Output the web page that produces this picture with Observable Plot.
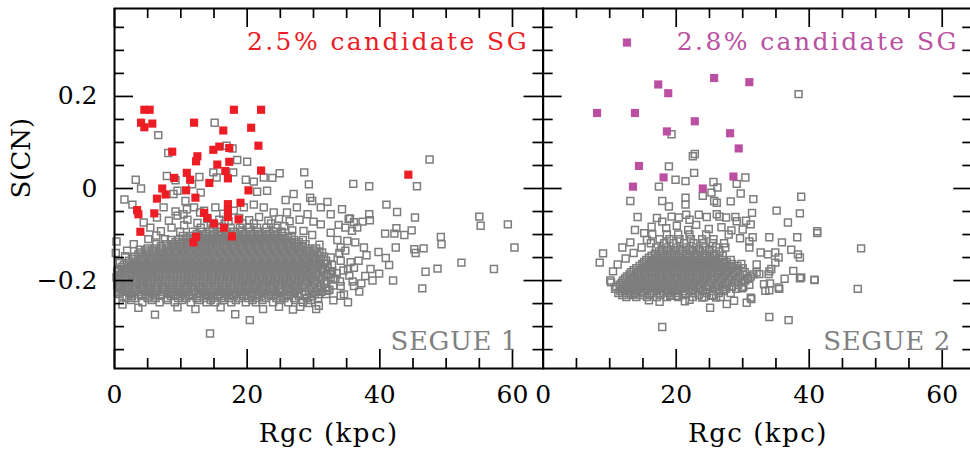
<!DOCTYPE html>
<html><head><meta charset="utf-8">
<script src="https://cdn.jsdelivr.net/npm/d3@7"></script>
<script src="https://cdn.jsdelivr.net/npm/@observablehq/plot@0.6"></script>
<style>
body{margin:0;background:#fff}
#wrap{position:relative;width:970px;height:449px;overflow:hidden;background:#fff}
.pane{position:absolute;top:0}
.pane svg{max-width:none !important}
</style>
</head><body><div id="wrap"></div>
<script>
// ---------- axes / ticks ----------
const xMajor = [0, 20, 40, 60];
const xMinor = [5, 10, 15, 25, 30, 35, 45, 50, 55];
const yMajor = [-0.2, 0, 0.2];
const yMinor = [-0.35, -0.3, -0.25, -0.15, -0.1, -0.05, 0.05, 0.1, 0.15, 0.25, 0.3, 0.35];
const xDomain = [0, 64.6];
const yDomain = [-0.391, 0.391];

// ---------- texts ----------
const titleLeft = "2.5% candidate SG";
const titleRight = "2.8% candidate SG";
const tagLeft = "SEGUE 1";
const tagRight = "SEGUE 2";
const xLabel = "Rgc (kpc)";
const yLabel = "S(CN)";

// ---------- SEGUE 1: candidate SG stars (filled red) ----------
const seg1Cand = [[4.5,0.171],[5.3,0.171],[4.0,0.143],[4.5,0.133],[5.7,0.141],[12.0,0.143],[18.0,0.171],[22.1,0.171],
[16.4,0.126],[20.6,0.132],[21.7,0.093],[8.7,0.080],[14.9,0.084],[15.8,0.091],[17.3,0.088],[12.5,0.070],[12.3,0.059],
[17.3,0.058],[15.5,0.052],[16.7,0.038],[17.1,0.022],[22.1,0.039],[10.9,0.034],[9.0,0.023],[11.4,0.019],[14.3,0.012],
[20.2,-0.004],[7.2,0.000],[7.7,-0.013],[10.8,-0.004],[12.2,-0.020],[6.4,-0.022],[19.0,-0.031],[3.4,-0.047],[3.6,-0.056],
[6.0,-0.054],[17.1,-0.034],[17.1,-0.048],[17.1,-0.062],[13.5,-0.053],[14.0,-0.064],[15.0,-0.076],[18.7,-0.067],
[16.5,-0.085],[3.9,-0.094],[12.3,-0.105],[11.9,-0.117],[17.7,-0.104],[44.3,0.030]];

// ---------- SEGUE 1: other stars (open grey), scattered ----------
const seg1Scatter = [[15.1,0.143],[6.6,0.116],[8.1,0.077],[16.9,0.093],[17.8,0.087],[18.5,0.062],[20.0,0.058],
[3.2,0.019],[4.0,0.0],[1.5,-0.024],[2.7,-0.035],[7.9,0.027],[9.2,0.018],[12.8,0.025],[11.7,0.009],
[14.9,0.035],[15.4,0.024],[17.9,0.035],[19.8,0.019],[21.0,0.015],[22.5,0.024],[23.8,0.023],[24.9,0.033],
[28.6,0.035],[29.3,0.009],[23.0,-0.005],[21.5,-0.007],[9.5,-0.005],[8.9,-0.012],[13.0,-0.009],
[10.7,-0.027],[25.8,-0.025],[27.0,-0.012],[29.5,-0.020],[29.8,-0.027],[32.1,-0.029],[34.3,-0.045],[35.3,-0.066],
[36.0,0.010],[38.4,0.005],[47.5,0.063],[45.6,0.005],
[7.4,-0.041],[9.2,-0.050],[10.4,-0.056],[12.0,-0.041],[13.5,-0.048],[15.2,-0.041],[16.4,-0.055],[18.0,-0.048],
[19.5,-0.041],[21.0,-0.035],[22.5,-0.041],[24.0,-0.052],[26.0,-0.052],[27.5,-0.041],[29.1,-0.056],[31.1,-0.041],[32.6,-0.056],
[10.9,-0.045],[12.9,-0.052],[4.4,-0.074],[5.4,-0.085],[6.4,-0.063],[8.2,-0.070],[9.5,-0.059],
[11.0,-0.068],[12.5,-0.075],[14.0,-0.066],[15.8,-0.068],[17.2,-0.071],[18.8,-0.064],[20.3,-0.069],[21.8,-0.062],
[23.2,-0.070],[24.8,-0.066],[26.4,-0.071],[27.9,-0.068],[30.0,-0.072],[31.1,-0.078],
[7.0,-0.093],[8.6,-0.085],[9.9,-0.094],[10.5,-0.080],[25.6,-0.082],[26.8,-0.091],[28.5,-0.092],[29.8,-0.101],
[0.3,-0.115],[1.9,-0.135],[2.9,-0.121],[3.8,-0.133],[5.1,-0.110],[6.3,-0.102],[7.6,-0.110],
[32.6,-0.096],[33.8,-0.079],[34.8,-0.085],[35.8,-0.092],[36.6,-0.085],[33.6,-0.112],[35.1,-0.114],[36.3,-0.117],
[34.1,-0.128],[34.8,-0.135],[32.6,-0.150],[32.1,-0.164],[34.1,-0.157],[36.1,-0.172],[36.8,-0.157],[32.6,-0.186],
[34.1,-0.212],[34.6,-0.230],[32.1,-0.222],[30.8,-0.230],[33.3,-0.196],[35.4,-0.189],[31.3,-0.139],[30.9,-0.122],
[41.0,-0.035],[42.6,-0.051],[45.3,-0.063],[35.5,-0.065],[38.4,-0.056],[38.5,-0.069],[37.4,-0.072],[36.1,-0.073],
[40.8,-0.098],[42.2,-0.098],[43.7,-0.101],[44.8,-0.091],[42.5,-0.086],[42.4,-0.128],[45.2,-0.132],[45.4,-0.140],
[46.6,-0.130],[49.2,-0.105],[49.3,-0.121],
[55.0,-0.061],[55.2,-0.081],[59.3,-0.078],[60.3,-0.128],[52.3,-0.161],[57.2,-0.175],[48.7,-0.174],[46.9,-0.181],
[46.4,-0.217],[42.0,-0.200],
[39.8,-0.138],[40.9,-0.151],[41.4,-0.166],[38.0,-0.145],[37.6,-0.128],[38.6,-0.175],[39.9,-0.185],
[34.1,-0.233],[30.4,-0.262],[28.0,-0.257],[38.9,-0.200],[37.2,-0.206],[36.1,-0.212],[36.9,-0.224],
[3.6,-0.259],[6.1,-0.274],[18.2,-0.273],[20.4,-0.286],[14.4,-0.315],[9.5,-0.258],[12.2,-0.262],[16.0,-0.258],
[22.4,-0.262],[24.8,-0.257],[26.9,-0.263],[30.8,-0.255],[1.2,-0.252],
[0.7,-0.198],[0.7,-0.212],[0.5,-0.226],[0.4,-0.180],[0.8,-0.162],[1.6,-0.147],[0.2,-0.140],
[33.9,-0.140],[35.6,-0.160],[34.5,-0.178],[35.9,-0.202],[37.8,-0.190],[33.0,-0.243],[35.2,-0.247],[29.2,-0.249]];

// ---------- SEGUE 1: dense core, one S(CN) level per row ----------
const seg1CoreY = [-0.247,-0.2425,-0.238,-0.2335,-0.229,-0.2245,-0.220,-0.2155,-0.211,-0.2065,-0.202,-0.1975,-0.193,-0.1885,
-0.184,-0.1795,-0.175,-0.1705,-0.166,-0.1615,-0.157,-0.1525,-0.148,-0.1435,-0.139,-0.1345,-0.130,-0.1255,-0.121,-0.1165,
-0.112,-0.1075,-0.103,-0.0985,-0.094,-0.085,-0.076];
const seg1CoreX = [
[4.2,6.8,9.1,11.5,13.9,15.2,17.6,19.8,21.3,23.9,26.2,28.4],
[2.5,5.6,8.0,10.2,12.8,14.5,16.5,18.3,20.8,22.3,24.9,27.3,29.6],
[1.8,3.1,5.0,6.2,7.9,9.6,10.8,12.4,13.5,14.8,16.1,17.3,18.8,20.1,21.5,22.8,24.4,25.6,27.1,29.0,30.7],
[1.2,2.6,4.0,5.3,6.9,8.5,9.9,11.2,12.9,14.2,15.5,16.7,18.0,19.5,20.8,22.2,23.6,25.0,26.3,27.8,29.8],
[0.6,2.4,3.7,4.6,5.8,7.1,8.3,9.2,10.4,11.6,12.9,14.0,15.5,16.6,17.9,19.2,20.6,21.8,23.1,24.3,25.9,27.6,28.8,30.2,31.9],
[0.9,1.7,3.0,4.0,5.1,6.2,7.4,8.6,9.6,10.9,12.0,13.4,14.7,15.9,17.1,18.4,19.7,20.9,22.2,23.5,24.8,26.2,27.2,28.7,30.4,31.2],
[1.2,2.0,3.3,4.4,5.5,6.5,7.6,8.8,9.9,11.0,12.1,13.3,14.5,15.7,16.9,18.1,19.3,20.4,21.7,22.9,24.0,25.2,26.5,27.8,29.3,30.6,32.4],
[0.8,2.1,3.0,4.1,5.2,6.4,7.3,8.4,9.5,10.7,11.6,12.8,14.0,15.2,16.4,17.6,18.8,20.0,21.2,22.4,23.6,24.9,26.1,27.3,28.6,30.0,31.8],
[0.4,1.5,2.7,3.9,4.9,6.0,7.2,8.2,9.4,10.5,11.7,12.7,13.9,15.1,16.3,17.5,18.6,19.8,21.0,22.2,23.4,24.7,25.8,27.0,28.3,29.7,31.1,33.0],
[1.0,2.0,3.2,4.4,5.5,6.5,7.7,8.8,9.8,11.0,12.2,13.2,14.4,15.6,16.8,18.0,19.1,20.3,21.5,22.7,23.9,25.1,26.3,27.5,28.8,30.2,31.6],
[0.9,2.2,3.4,4.3,5.4,6.7,7.8,8.9,10.0,11.2,12.3,13.4,14.6,15.8,17.0,18.2,19.4,20.6,21.8,23.0,24.2,25.4,26.6,27.8,29.0,30.3,31.7,34.0],
[0.5,1.9,2.8,4.0,4.8,6.0,7.2,8.3,9.4,10.5,11.7,12.8,13.9,15.1,16.3,17.5,18.7,19.9,21.1,22.3,23.5,24.7,25.9,27.1,28.3,29.6,31.0,33.0],
[0.3,1.6,2.9,3.8,5.0,6.1,7.3,8.4,9.5,10.6,11.8,12.9,14.0,15.2,16.4,17.6,18.8,20.0,21.2,22.4,23.6,24.8,26.0,27.2,28.5,29.8,31.2,32.6],
[0.8,2.2,3.3,4.3,5.4,6.6,7.7,8.9,10.0,11.2,12.3,13.4,14.6,15.8,17.0,18.2,19.4,20.6,21.8,23.0,24.2,25.4,26.6,27.8,29.1,30.4,31.9],
[1.1,2.3,3.5,4.7,5.6,6.8,7.9,9.0,10.1,11.3,12.4,13.6,14.7,15.9,17.1,18.3,19.5,20.7,21.9,23.1,24.3,25.5,26.7,28.0,29.3,30.6,32.1,33.5],
[0.5,1.6,2.8,4.0,5.1,6.2,7.3,8.4,9.5,10.6,11.8,13.0,14.1,15.3,16.5,17.7,18.9,20.1,21.3,22.5,23.7,24.9,26.1,27.3,28.6,29.9,31.3,32.8],
[0.7,2.0,3.2,4.2,5.3,6.4,7.5,8.6,9.7,10.8,11.9,13.0,14.2,15.4,16.6,17.8,19.0,20.2,21.4,22.6,23.8,25.0,26.2,27.4,28.7,30.0,31.4,35.2],
[1.1,2.5,3.7,4.8,5.8,6.9,8.0,9.1,10.2,11.3,12.4,13.6,14.8,16.0,17.2,18.4,19.6,20.8,22.0,23.2,24.4,25.6,26.8,28.0,29.3,30.7,32.1],
[1.4,2.6,3.9,5.0,6.1,7.2,8.3,9.4,10.5,11.6,12.7,13.8,15.0,16.2,17.4,18.6,19.8,21.0,22.2,23.4,24.6,25.8,27.0,28.3,29.6,31.0,32.8],
[1.9,3.1,4.4,5.5,6.6,7.7,8.8,9.9,11.0,12.1,13.2,14.4,15.6,16.8,18.0,19.2,20.4,21.6,22.8,24.0,25.2,26.4,27.6,28.9,30.2,31.6],
[2.2,3.5,4.6,5.8,6.9,8.0,9.1,10.2,11.3,12.4,13.5,14.6,15.8,17.0,18.2,19.4,20.6,21.8,23.0,24.2,25.4,26.6,27.8,29.1,30.4,31.9],
[2.8,4.0,5.2,6.3,7.4,8.5,9.6,10.7,11.8,12.9,14.0,15.2,16.4,17.6,18.8,20.0,21.2,22.4,23.6,24.8,26.0,27.2,28.5,29.8,31.1],
[3.0,4.3,5.5,6.6,7.7,8.8,9.9,11.0,12.1,13.2,14.3,15.4,16.6,17.8,19.0,20.2,21.4,22.6,23.8,25.0,26.2,27.4,28.7,30.1,31.6],
[3.6,4.8,6.0,7.1,8.2,9.3,10.4,11.5,12.6,13.7,14.8,16.0,17.2,18.4,19.6,20.8,22.0,23.2,24.4,25.6,26.8,28.0,29.3,30.6],
[4.0,5.2,6.3,7.4,8.5,9.6,10.7,11.8,12.9,14.0,15.1,16.2,17.4,18.6,19.8,21.0,22.2,23.4,24.6,25.8,27.0,28.3,29.6,30.9],
[4.6,5.7,6.8,7.9,9.0,10.1,11.2,12.3,13.4,14.5,15.6,16.8,18.0,19.2,20.4,21.6,22.8,24.0,25.2,26.4,27.6,28.9,30.0],
[5.0,6.0,7.1,8.2,9.3,10.4,11.5,12.6,13.7,14.8,15.9,17.0,18.2,19.4,20.6,21.8,23.0,24.2,25.4,26.6,27.9,29.2,30.4],
[7.0,8.6,9.8,10.9,12.0,13.1,14.2,15.3,16.4,17.6,18.8,20.0,21.2,22.4,23.6,24.8,26.0,27.2,28.4],
[6.3,7.8,8.9,10.0,11.1,12.2,13.3,14.4,15.5,16.6,17.8,19.0,20.2,21.4,22.6,23.8,25.0,26.2,27.5,28.8],
[9.2,10.4,11.5,12.6,13.7,14.8,15.9,17.0,18.2,19.4,20.6,21.8,23.0,24.2,25.4,26.6,27.8],
[8.5,9.7,10.8,11.9,13.0,14.1,15.2,16.3,17.4,18.6,19.8,21.0,22.2,23.4,24.6,25.8,27.1,28.4],
[11.0,12.1,13.2,14.3,15.4,16.6,17.8,19.0,20.2,21.4,22.6,23.8,25.0,26.2],
[10.3,11.5,12.6,13.7,14.8,15.9,17.0,18.2,19.4,20.6,21.8,23.0,24.2,25.4,26.7],
[12.4,13.8,15.0,16.2,17.4,18.6,19.8,21.0,22.2,23.4,24.6],
[11.8,13.2,14.4,15.6,16.8,18.0,19.2,20.4,21.6,22.8,24.0,25.2],
[13.0,14.8,16.1,17.5,18.9,20.2,21.5,22.9,24.3],
[14.5,16.6,19.3,21.0,23.6]];

// ---------- SEGUE 2: candidate SG stars (filled magenta) ----------
const seg2Cand = [[12.6,0.317],[8.1,0.164],[13.8,0.164],[17.3,0.226],[18.8,0.207],[25.7,0.240],[31.0,0.231],
[22.8,0.146],[18.6,0.124],[28.1,0.120],[29.4,0.087],[14.4,0.049],[18.1,0.024],[28.6,0.026],[13.5,0.004],[24.0,0.000]];

// ---------- SEGUE 2: other stars, scattered ----------
const seg2Scatter = [[38.4,0.205],[19.3,0.118],[22.8,0.075],[22.5,0.070],[18.9,0.048],[22.7,0.034],[19.9,0.019],
[21.4,0.016],[17.4,0.004],[25.6,0.014],[26.2,0.002],[25.3,-0.009],[24.0,-0.016],[29.1,0.010],[30.4,0.024],
[29.7,-0.011],[31.6,-0.023],[38.8,-0.018],[13.1,-0.027],[17.9,-0.027],[18.9,-0.039],[21.4,-0.020],[21.4,-0.035],
[25.7,-0.027],[26.1,-0.031],[28.2,-0.028],[14.2,-0.062],[35.1,-0.048],[38.6,-0.054],[36.8,-0.074],[31.4,-0.053],
[41.2,-0.093],[13.8,-0.090],
[17.1,-0.064],[17.9,-0.072],[19.3,-0.061],[20.4,-0.063],[21.5,-0.057],[22.0,-0.068],[23.4,-0.057],[24.6,-0.062],
[26.1,-0.056],[26.5,-0.061],[27.5,-0.063],[28.9,-0.062],[29.1,-0.071],[30.5,-0.070],[31.2,-0.078],[16.3,-0.083],
[18.5,-0.086],[20.1,-0.081],[21.8,-0.090],[23.0,-0.079],[24.9,-0.088],[26.8,-0.084],[28.3,-0.091],[30.0,-0.089],
[15.2,-0.097],[27.9,-0.100],[29.6,-0.108],[31.0,-0.115],
[38.2,-0.106],[35.9,-0.117],[34.0,-0.106],[31.5,-0.106],[32.7,-0.139],[33.8,-0.143],[34.9,-0.139],[35.4,-0.150],
[34.9,-0.161],[37.3,-0.133],[38.3,-0.143],[38.6,-0.150],[37.6,-0.179],[38.8,-0.193],[40.8,-0.199],[35.4,-0.215],
[34.1,-0.206],[33.2,-0.208],[33.9,-0.186],[34.3,-0.175],[29.9,-0.215],[31.2,-0.237],[27.2,-0.219],[25.4,-0.233],
[23.9,-0.237],[32.1,-0.165],[31.0,-0.128],[32.5,-0.186],[30.8,-0.196],[33.4,-0.222],[36.3,-0.196],
[8.5,-0.161],[9.0,-0.141],[10.2,-0.204],[10.1,-0.200],[11.9,-0.219],[13.5,-0.230],[14.6,-0.226],[11.9,-0.128],
[13.1,-0.117],[10.5,-0.180],[11.2,-0.165],[12.4,-0.152],[13.6,-0.140],[14.8,-0.128],[15.6,-0.112],
[17.9,-0.301],[17.5,-0.246],[19.1,-0.233],[20.1,-0.233],[22.0,-0.242],[25.1,-0.259],[26.0,-0.237],[27.6,-0.251],
[28.7,-0.244],[30.6,-0.248],[31.3,-0.240],[29.9,-0.217],[35.5,-0.218],[34.0,-0.279],[36.9,-0.286],[38.6,-0.195],
[40.8,-0.198],[47.3,-0.218],[47.8,-0.130],[41.2,-0.097],[34.0,-0.180],[34.0,-0.221],[15.9,-0.243],[21.3,-0.245]];

// ---------- SEGUE 2: dense core rows ----------
const seg2CoreY = [-0.236,-0.2315,-0.227,-0.2225,-0.218,-0.2135,-0.209,-0.2045,-0.200,-0.1955,-0.191,-0.1865,-0.182,-0.1775,
-0.173,-0.1685,-0.164,-0.1595,-0.155,-0.1505,-0.146,-0.1415,-0.137,-0.1325,-0.128,-0.119,-0.110,-0.100];
const seg2CoreX = [
[12.5,14.0,15.6,17.1,18.6,20.3,22.5,24.2,26.7],
[11.9,13.2,14.6,16.0,17.6,19.3,21.0,23.4,25.5],
[11.3,12.6,13.8,15.0,16.3,17.5,18.8,20.0,21.4,22.8,24.6,26.4,28.2],
[11.6,12.8,14.0,15.2,16.4,17.6,18.8,20.0,21.2,22.5,24.0,25.5,27.1],
[10.8,11.9,13.0,14.1,15.2,16.3,17.4,18.5,19.6,20.8,22.0,23.3,24.7,26.1,27.5,29.0],
[11.0,12.1,13.2,14.3,15.4,16.5,17.6,18.7,19.8,20.9,22.1,23.3,24.5,25.8,27.0,28.4,30.1],
[11.5,12.5,13.6,14.7,15.8,16.9,18.0,19.1,20.2,21.3,22.5,23.7,24.9,26.2,27.6,29.3,31.0],
[11.8,12.8,13.9,15.0,16.1,17.2,18.3,19.4,20.5,21.6,22.7,23.9,25.1,26.3,27.5,28.8,30.0],
[12.0,13.1,14.2,15.3,16.4,17.5,18.6,19.7,20.8,21.9,23.0,24.1,25.3,26.5,27.8,29.0,30.4],
[12.3,13.4,14.5,15.6,16.7,17.8,18.9,20.0,21.1,22.2,23.3,24.4,25.6,26.8,28.0,29.3,30.8],
[12.6,13.7,14.8,15.9,17.0,18.1,19.2,20.3,21.4,22.5,23.6,24.7,25.8,27.0,28.3,29.6,31.2],
[13.0,14.1,15.2,16.3,17.4,18.5,19.6,20.7,21.8,22.9,24.0,25.1,26.2,27.3,28.6,30.0,31.6],
[13.2,14.3,15.4,16.5,17.6,18.7,19.8,20.9,22.0,23.1,24.2,25.3,26.4,27.6,28.9,30.3,32.1],
[13.6,14.7,15.8,16.9,18.0,19.1,20.2,21.3,22.4,23.5,24.6,25.7,26.8,28.0,29.3],
[14.0,15.1,16.2,17.3,18.4,19.5,20.6,21.7,22.8,23.9,25.0,26.1,27.3,28.6,30.0],
[14.5,15.6,16.7,17.8,18.9,20.0,21.1,22.2,23.3,24.4,25.5,26.7,27.9,29.2],
[14.9,16.0,17.1,18.2,19.3,20.4,21.5,22.6,23.7,24.8,25.9,27.1,28.4,29.8],
[15.2,16.4,17.5,18.6,19.7,20.8,21.9,23.0,24.1,25.2,26.4,27.6],
[15.5,16.7,17.8,18.9,20.0,21.1,22.2,23.3,24.4,25.6,26.9,28.2],
[15.9,17.1,18.2,19.3,20.4,21.5,22.7,23.9,25.1,26.4],
[16.3,17.6,18.7,19.8,20.9,22.0,23.2,24.4,25.7,27.0],
[16.8,18.0,19.2,20.4,21.6,22.9,24.3,25.7],
[17.4,18.6,19.8,21.0,22.3,23.6,25.0,26.5],
[17.8,19.2,20.6,22.0,23.4,25.0],
[17.0,18.5,20.0,21.5,23.0,24.4,26.0,27.4],
[16.2,18.2,19.6,21.2,22.6,24.1,25.5,27.2],
[17.5,19.0,20.5,22.2,23.9,25.6],
[16.4,18.6,20.3,22.0,24.5]];

// ---------- colours ----------
const red = "#ec1d25";
const magenta = "#bb50a2";
const grey = "#7d7d7d";

function rowsToPoints(ys, xs) {
  const out = [];
  ys.forEach((y, i) => xs[i].forEach(x => out.push([x, y])));
  return out;
}
const seg1Grey = seg1Scatter.concat(rowsToPoints(seg1CoreY, seg1CoreX));
const seg2Grey = seg2Scatter.concat(rowsToPoints(seg2CoreY, seg2CoreX));

const FONT = "DejaVu Serif";
const HEIGHT = 449, MT = 8, MB = 81;
const FH = HEIGHT - MT - MB;
const MAJOR_PX = 19, MINOR_PX = 10;

function panel({width, marginLeft, marginRight, greyPts, candPts, candColor, title, tag, showY, titleDx, tagDx}) {
  const FW = width - marginLeft - marginRight;
  // tick lengths expressed in data units of each scale
  const yPerPx = (yDomain[1] - yDomain[0]) / FH;
  const xPerPx = (xDomain[1] - xDomain[0]) / FW;
  const [x0, x1] = xDomain, [y0, y1] = yDomain;
  const tickStyle = {stroke: "#000", strokeWidth: 1.7};
  const xt = (vals, len) => [
    Plot.ruleX(vals, {x: d => d, y1: y0, y2: y0 + len * yPerPx, ...tickStyle}),
    Plot.ruleX(vals, {x: d => d, y1: y1, y2: y1 - len * yPerPx, ...tickStyle})
  ];
  const yt = (vals, len) => [
    Plot.ruleY(vals, {y: d => d, x1: x0, x2: x0 + len * xPerPx, ...tickStyle}),
    Plot.ruleY(vals, {y: d => d, x1: x1, x2: x1 - len * xPerPx, ...tickStyle})
  ];
  const marks = [
    Plot.dot(greyPts, {x: d => d[0], y: d => d[1], symbol: "square", r: 3.9, stroke: grey, strokeWidth: 1.5, fill: "none"}),
    Plot.dot(candPts, {x: d => d[0], y: d => d[1], symbol: "square", r: 4.6, fill: candColor, stroke: "none"}),
    ...xt(xMajor, MAJOR_PX), ...xt(xMinor, MINOR_PX),
    ...yt(yMajor, MAJOR_PX), ...yt(yMinor, MINOR_PX),
    Plot.frame({stroke: "#000", strokeWidth: 2}),
    Plot.axisX(xMajor, {anchor: "bottom", tickSize: 0, tickPadding: 17, tickFormat: d => String(d), label: null, fontSize: 25}),
    Plot.text([xLabel], {frameAnchor: "bottom", text: d => d, lineAnchor: "top", dy: 55.5, fontSize: 26}),
    Plot.text([title], {frameAnchor: "top-right", text: d => d, textAnchor: "end", lineAnchor: "top", dx: titleDx, dy: 24, fill: candColor, fontSize: 25}),
    Plot.text([tag], {frameAnchor: "bottom-right", text: d => d, textAnchor: "end", lineAnchor: "top", dx: tagDx, dy: -36.5, fill: "#808080", fontSize: 26})
  ];
  if (showY) {
    marks.push(
      Plot.axisY(yMajor, {anchor: "left", tickSize: 0, tickPadding: 17, label: null, fontSize: 25,
        tickFormat: d => d === 0 ? "0" : (d < 0 ? "\u2212" : "") + Math.abs(d).toFixed(1)}),
      Plot.text([yLabel], {frameAnchor: "left", text: d => d, rotate: -90, dx: -92.5, dy: 10, fontSize: 26})
    );
  }
  const svg = Plot.plot({
    width, height: HEIGHT, marginTop: MT, marginBottom: MB, marginLeft, marginRight,
    x: {domain: xDomain, axis: null}, y: {domain: yDomain, axis: null},
    style: {fontFamily: FONT, fontSize: "25px", background: "transparent", overflow: "visible", color: "#000", maxWidth: "none"},
    marks
  });
  svg.style.maxWidth = "none";
  d3.select(svg).selectAll("text").each(function () {
    const t = this.textContent;
    if (t.includes("candidate")) this.setAttribute("letter-spacing", "2.4");
    else if (t.startsWith("Rgc")) this.setAttribute("letter-spacing", "1.5");
    else if (t.startsWith("SEGUE")) this.setAttribute("letter-spacing", "0.6");
  });
  return svg;
}

const wrap = document.getElementById("wrap");
const left = panel({width: 546, marginLeft: 114, marginRight: 3.5, greyPts: seg1Grey, candPts: seg1Cand, candColor: red,
  title: titleLeft, tag: tagLeft, showY: true, titleDx: -14, tagDx: -25});
const right = panel({width: 460, marginLeft: 22.7, marginRight: 7.7, greyPts: seg2Grey, candPts: seg2Cand, candColor: magenta,
  title: titleRight, tag: tagRight, showY: false, titleDx: -14, tagDx: -22});
const d1 = document.createElement("div"); d1.className = "pane"; d1.style.left = "0px"; d1.style.width = "546px"; d1.appendChild(left);
const d2 = document.createElement("div"); d2.className = "pane"; d2.style.left = "520px"; d2.style.width = "460px"; d2.appendChild(right);
wrap.appendChild(d2);
wrap.appendChild(d1);
</script>
</body></html>
